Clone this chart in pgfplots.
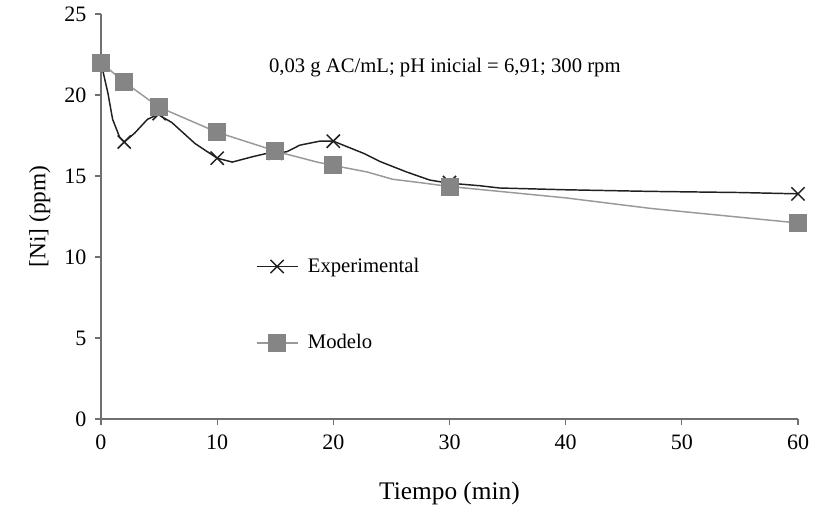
\documentclass[border=0pt]{standalone}
\usepackage{pgfplots}
\pgfplotsset{compat=1.18}
\usepackage{fontspec}
\setmainfont{Liberation Serif}
\definecolor{expc}{HTML}{202020}
\definecolor{modc}{HTML}{999999}
\definecolor{modf}{HTML}{858585}
\definecolor{axc}{HTML}{707070}
\newcommand{\bigfont}{\fontsize{15.5}{18}\selectfont}
\begin{document}
\begin{tikzpicture}
\path[use as bounding box] (-75.75pt,-72pt) rectangle (534pt,314.25pt);
\begin{axis}[
  scale only axis,
  width=522.75pt, height=303.75pt,
  xmin=0, xmax=60, ymin=0, ymax=25,
  xtick={0,10,...,60}, ytick={0,5,...,25},
  axis x line*=bottom, axis y line*=left,
  axis line style={draw=axc, line width=0.8pt},
  tick style={draw=axc, line width=0.8pt},
  tick align=outside, major tick length=4.5pt,
  /pgf/number format/assume math mode=true,
  tick label style={font=\fontsize{16.5}{19}\selectfont},
  xticklabel style={yshift=-4pt},
  yticklabel style={xshift=-3pt},
  xlabel={Tiempo (min)}, ylabel={[Ni] (ppm)},
  xlabel style={font=\fontsize{19}{22}\selectfont, at={(axis description cs:0.5,0)}, anchor=center, yshift=-56pt},
  ylabel style={font=\fontsize{17.5}{20}\selectfont, at={(axis description cs:0,0.5)}, anchor=center, yshift=46pt},
  clip=false,
  legend style={at={(axis cs:13.3,10.1)}, anchor=north west, draw=none, fill=none,
    font=\bigfont, row sep=41pt, column sep=5pt, inner sep=0pt},
  legend cell align=left,
]
% line shapes
\addplot[expc, line width=1.1pt, forget plot] coordinates {
(0,22.0)(0.6,20.1)(1.0,18.5)(1.6,17.4)(2,17.1)(2.9,17.65)(4,18.5)(4.9,18.8)(6.1,18.3)(8.1,17.0)(10,16.1)
(11.3,15.86)(13.1,16.2)(14.3,16.4)(15,16.4)(16,16.5)(17.1,16.9)(18.9,17.16)(20,17.15)
(22.6,16.4)(24,15.9)(26.3,15.25)(28.3,14.75)(29.8,14.57)(32.6,14.4)(34.3,14.26)(40,14.15)(47.3,14.05)(55,13.98)(60,13.9)};
\addplot[modc, line width=1.1pt, forget plot] coordinates {
(0,22.0)(2,20.8)(5,19.25)(10,17.7)(15,16.55)(15.7,16.4)(18.6,15.86)(20,15.65)
(22.9,15.25)(25.1,14.8)(27.7,14.57)(30,14.35)(34.3,14.05)(40,13.65)(47.3,13.0)(60,12.1)};
% markers
\addplot[expc, line width=1.1pt, only marks, mark=x, mark size=7pt,
  legend image code/.code={\draw[expc, line width=1.1pt] (0pt,0pt) -- (31pt,0pt);
    \draw[expc, line width=1.1pt] plot[mark=x, mark size=7pt] coordinates {(15.5pt,0pt)};}]
  coordinates {(0,22)(2,17.1)(5,18.85)(10,16.1)(15,16.4)(20,17.15)(30,14.6)(60,13.9)};
\addlegendentry{Experimental}
\addplot[modc, line width=1.1pt, only marks, mark=square*, mark size=6.2pt, mark options={fill=modf, draw=modf},
  legend image code/.code={\draw[modc, line width=1.1pt] (0pt,0pt) -- (31pt,0pt);
    \draw[modf, fill=modf] plot[mark=square*, mark size=6.2pt] coordinates {(15.5pt,0pt)};}]
  coordinates {(0,22)(2,20.8)(5,19.25)(10,17.7)(15,16.55)(20,15.65)(30,14.35)(60,12.1)};
\addlegendentry{Modelo}
\node[font=\bigfont, anchor=center] at (axis cs:29.6,21.7) {0,03 g AC/mL; pH inicial = 6,91; 300 rpm};
\end{axis}
\end{tikzpicture}
\end{document}
